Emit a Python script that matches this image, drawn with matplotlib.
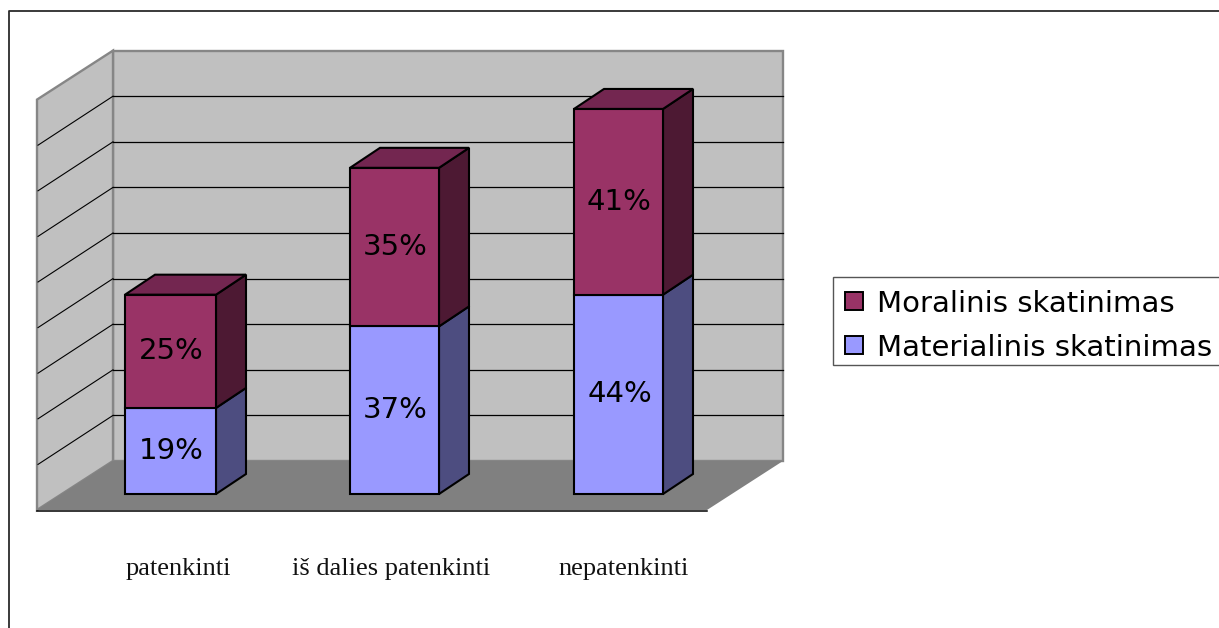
import numpy as np
import matplotlib
matplotlib.use('Agg')
import matplotlib.pyplot as plt
from matplotlib.patches import Polygon, Rectangle

categories = ['patenkinti', 'iš dalies patenkinti', 'nepatenkinti']
materialinis = [19, 37, 44]
moralinis = [25, 35, 41]
series_names = ['Moralinis skatinimas', 'Materialinis skatinimas']
grid_values = [10, 20, 30, 40, 50, 60, 70, 80, 90]

W, H = 1219, 628
fig = plt.figure(figsize=(W/100, H/100), dpi=100, facecolor='white')
ax = fig.add_axes([0, 0, 1, 1])
ax.set_xlim(0, W)
ax.set_ylim(H, 0)
ax.axis('off')

# page frame, only top and left are visible
ax.plot([8.5, 8.5, W], [H, 11, 11], color='#2b2b2b', lw=1.3, solid_capstyle='butt')

# pixels per percent and the 3d offset of the box
scale = 4.56
dx, dy = 76, -49
x0, x1 = 37, 707
y0 = 510
ytop = y0 - 90*scale

def yy(v):
    return y0 - v*scale

wall = '#c0c0c0'
edge = '#868686'
# walls and floor
ax.add_patch(Polygon([(x0+dx, y0+dy), (x1+dx, y0+dy), (x1+dx, ytop+dy), (x0+dx, ytop+dy)],
                     fc=wall, ec=edge, lw=1.7, zorder=1))
ax.add_patch(Polygon([(x0, y0), (x0+dx, y0+dy), (x0+dx, ytop+dy), (x0, ytop)],
                     fc=wall, ec=edge, lw=1.7, zorder=1))
ax.add_patch(Polygon([(x0, y0), (x1, y0), (x1+dx, y0+dy), (x0+dx, y0+dy)],
                     fc='#808080', ec='none', zorder=2))
ax.plot([x0, x1], [y0+0.5, y0+0.5], color='black', lw=1.1, zorder=3)

for g in grid_values[:-1]:
    ax.plot([x0+1, x0+dx], [yy(g), yy(g)+dy], color='black', lw=0.8, zorder=2)
    ax.plot([x0+dx, x1+dx], [yy(g)+dy, yy(g)+dy], color='black', lw=0.9, zorder=2)

# stacked 3d bars
bar_left = [125, 350, 574]
bar_w = [91, 89, 89]
label_x = [178.5, 391, 624]
bar_base = 494
bar_scale = 4.53
bar_dx, bar_dy = 30, -20
front_cols = ['#9999ff', '#993366']
side_cols = ['#4d4d80', '#4d1933']
top_col = '#732650'

def box(x, w, v0, v1, front, side, top=None):
    y_a = bar_base - v0*bar_scale
    y_b = bar_base - v1*bar_scale
    ax.add_patch(Polygon([(x+w, y_a), (x+w+bar_dx, y_a+bar_dy), (x+w+bar_dx, y_b+bar_dy), (x+w, y_b)],
                         fc=side, ec='black', lw=1.5, joinstyle='miter', zorder=5))
    if top is not None:
        ax.add_patch(Polygon([(x, y_b), (x+w, y_b), (x+w+bar_dx, y_b+bar_dy), (x+bar_dx, y_b+bar_dy)],
                             fc=top, ec='black', lw=1.5, joinstyle='miter', zorder=5))
    ax.add_patch(Rectangle((x, y_b), w, y_a-y_b, fc=front, ec='black', lw=1.5, zorder=6))
    return (y_a+y_b)/2

for i in range(len(categories)):
    m0, m1 = materialinis[i], moralinis[i]
    cy = box(bar_left[i], bar_w[i], 0, m0, front_cols[0], side_cols[0])
    ax.text(bar_left[i]+bar_w[i]/2+1, cy, f'{m0}%', ha='center', va='center',
            family='DejaVu Sans', fontsize=21, color='black', zorder=7)
    cy = box(bar_left[i], bar_w[i], m0, m0+m1, front_cols[1], side_cols[1], top_col)
    ax.text(bar_left[i]+bar_w[i]/2+1, cy, f'{m1}%', ha='center', va='center',
            family='DejaVu Sans', fontsize=21, color='black', zorder=7)
    ax.text(label_x[i], 575, categories[i], ha='center', va='baseline',
            family='Liberation Serif', fontsize=19, color='#111111')

# legend
ax.add_patch(Rectangle((833, 277), W-833+2, 88, fc='white', ec='#555555', lw=1.0, zorder=4))
for name, col, y in zip(series_names, [front_cols[1], front_cols[0]], [301, 345]):
    ax.add_patch(Rectangle((845, y-9), 18, 18, fc=col, ec='black', lw=1.4, zorder=5))
    ax.text(877, y, name, ha='left', va='center_baseline', family='DejaVu Sans',
            fontsize=21, color='black', zorder=5)

fig.savefig('out.png', dpi=100)
